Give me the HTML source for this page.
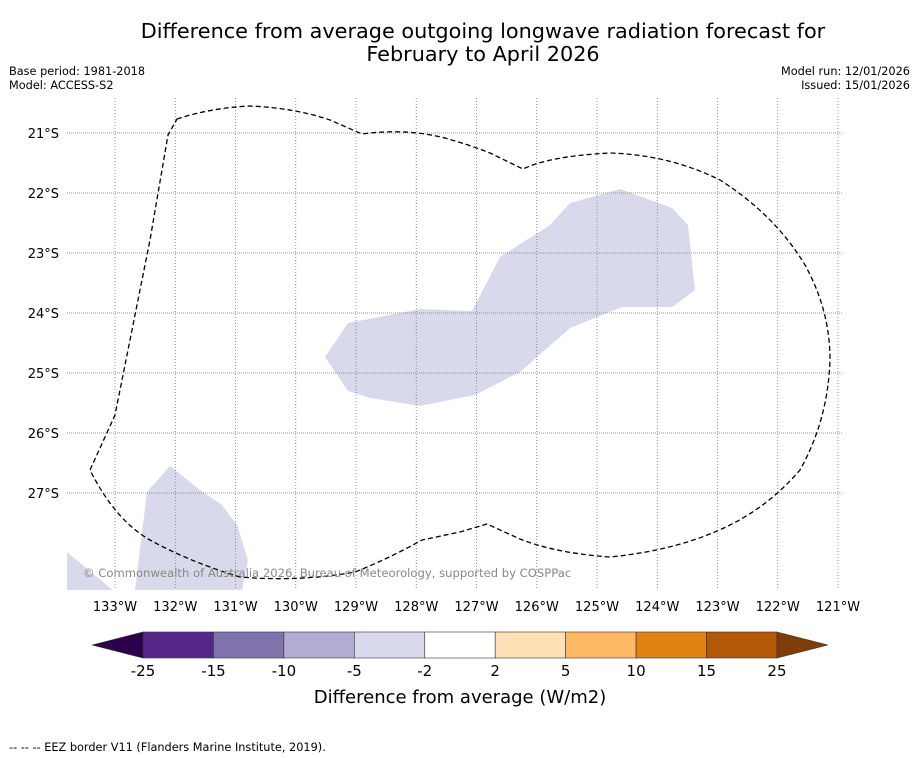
<!DOCTYPE html>
<html><head><meta charset="utf-8"><style>
body{margin:0;background:#fff;font-family:"DejaVu Sans","Liberation Sans",sans-serif}
svg{display:block}
</style></head><body>
<svg id="c" width="919" height="758" xmlns="http://www.w3.org/2000/svg">
<text x="483" y="38" text-anchor="middle" font-size="20.8">Difference from average outgoing longwave radiation forecast for</text>
<text x="483" y="61" text-anchor="middle" font-size="20.8">February to April 2026</text>
<text x="9" y="75" font-size="11.3">Base period: 1981-2018</text>
<text x="9" y="89" font-size="11.3">Model: ACCESS-S2</text>
<text x="910" y="75" font-size="11.3" text-anchor="end">Model run: 12/01/2026</text>
<text x="910" y="89" font-size="11.3" text-anchor="end">Issued: 15/01/2026</text>
<g id="map"></g>
<g id="cbar"></g>
<text x="9" y="751" font-size="11.3">--  --  -- EEZ border V11 (Flanders Marine Institute, 2019).</text>
</svg>
<script>
const lonTicks=[133,132,131,130,129,128,127,126,125,124,123,122,121];
const latTicks=[21,22,23,24,25,26,27];
const levels=[-25,-15,-10,-5,-2,2,5,10,15,25];
const colors=["#542788","#8073ac","#b2abd2","#d8daeb","#ffffff","#fee0b6","#fdb863","#e08214","#b35806"];
const NS="http://www.w3.org/2000/svg";
const x0=67,x1=843,y0=98,y1=590;
const lonX=l=>115+(133-l)*60.25;
const latY=l=>133+(l-21)*60;
function mk(t,a,p){const e=document.createElementNS(NS,t);for(const k in a)e.setAttribute(k,a[k]);p.appendChild(e);return e;}
const map=document.getElementById('map');
const cp=mk('clipPath',{id:'clip'},map);mk('rect',{x:x0,y:y0,width:x1-x0,height:y1-y0},cp);
const g=mk('g',{'clip-path':'url(#clip)'},map);
const blob1="325,357 348,323 420,309 472,311 500,257 550,225 570,203 620,189 672,208 688,225 695,290 672,307 622,307 570,328 520,372 475,395 420,406 370,398 348,391";
const blob2="135,590 147,492 170,466 200,490 222,505 237,525 248,560 242,590";
const blob3="67,552 115,592 67,592";
[blob1,blob2,blob3].forEach((p,i)=>{const e=mk('polygon',{points:p,fill:'#d8daeb'},g);

});
lonTicks.forEach(l=>{const x=lonX(l);
const ln=mk('line',{x1:x,x2:x,y1:y0,y2:y1,stroke:'#777','stroke-width':0.8,'stroke-dasharray':'1,2'},g);


const t=mk('text',{x:x,y:611,'text-anchor':'middle','font-size':13},map);t.textContent=l+'°W';

});
latTicks.forEach(l=>{const y=latY(l);
const ln=mk('line',{x1:x0,x2:x1,y1:y,y2:y,stroke:'#777','stroke-width':0.8,'stroke-dasharray':'1,1'},g);


const t=mk('text',{x:59,y:y+5,'text-anchor':'end','font-size':13},map);t.textContent=l+'°S';

});
const eez="M177,119 Q210,108 250,106 Q295,108 330,120 L362,134 Q405,128 445,138 Q470,145 490,153 L523,169 Q550,156 610,153 Q670,155 720,180 Q775,215 805,265 Q830,310 830,360 Q828,420 800,470 Q770,505 730,525 Q680,550 610,557 Q555,553 520,539 L487,524 L460,532 L422,540 Q390,558 355,572 Q300,582 240,577 Q190,562 150,540 Q115,520 90,470 L115,415 L130,340 L150,240 L168,135 Z";
const ep=mk('path',{d:eez,fill:'none',stroke:'#000','stroke-width':1.3,'stroke-dasharray':'5,3'},g);


const cr=mk('text',{x:83,y:577,'font-size':11.6,fill:'#888'},g);cr.textContent='© Commonwealth of Australia 2026, Bureau of Meteorology, supported by COSPPac';


const cb=document.getElementById('cbar');
const cx0=143,cw=70.44,cy=632,ch=26;
colors.forEach((c,i)=>{const r=mk('rect',{x:cx0+i*cw,y:cy,width:cw,height:ch,fill:c,stroke:'#333','stroke-width':0.6},cb);

});
const tl=mk('polygon',{points:`${cx0},${cy} 92,${cy+ch/2} ${cx0},${cy+ch}`,fill:'#2d004b',stroke:'#333','stroke-width':0.6},cb);


const xe=cx0+9*cw;
const tr=mk('polygon',{points:`${xe},${cy} 828,${cy+ch/2} ${xe},${cy+ch}`,fill:'#7f3b08',stroke:'#333','stroke-width':0.6},cb);


levels.forEach((v,i)=>{const t=mk('text',{x:cx0+i*cw,y:676,'text-anchor':'middle','font-size':15},cb);t.textContent=v;

});
const ct=mk('text',{x:460,y:703,'text-anchor':'middle','font-size':18},cb);ct.textContent='Difference from average (W/m2)';


</script>
</body></html>
